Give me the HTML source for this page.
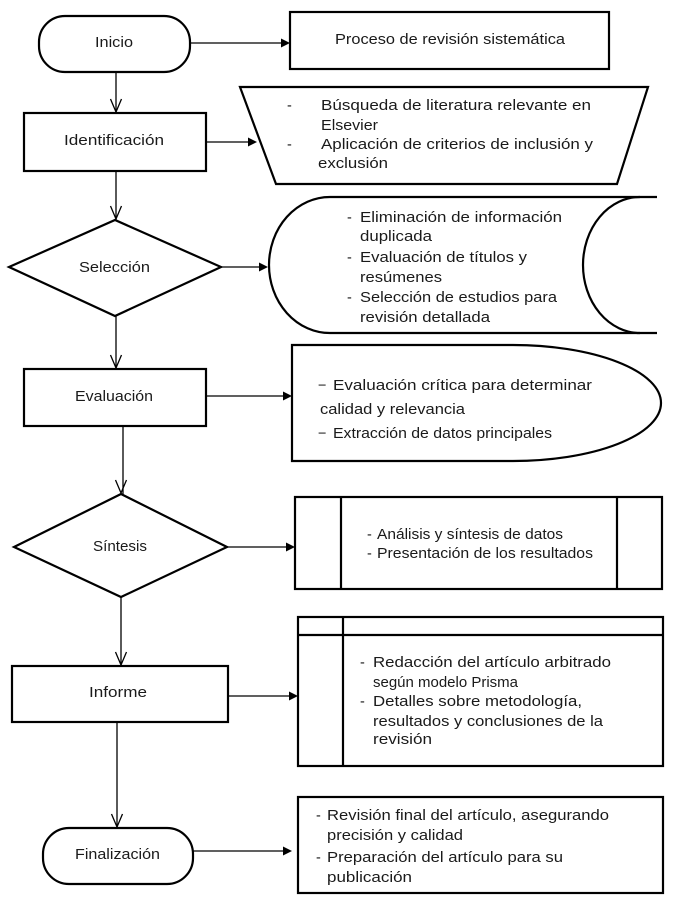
<!DOCTYPE html>
<html>
<head>
<meta charset="utf-8">
<style>
  html, body { margin: 0; padding: 0; background: #fff; }
  svg { display: block; }
  text { font-family: "Liberation Sans", sans-serif; font-size: 14.5px; fill: #1a1a1a; }
</style>
</head>
<body>
<svg width="682" height="903" viewBox="0 0 682 903" xmlns="http://www.w3.org/2000/svg">
  <g fill="none" stroke="#000" stroke-width="2.2">
    <rect x="39" y="16" width="151" height="56" rx="26" ry="26"/>
    <rect x="24" y="113" width="182" height="58"/>
    <polygon points="9,267 115,220 221,267 115,316"/>
    <rect x="24" y="369" width="182" height="57"/>
    <polygon points="14,547 121,494 227,547 121,597"/>
    <rect x="12" y="666" width="216" height="56"/>
    <rect x="43" y="828" width="150" height="56" rx="26" ry="26"/>

    <rect x="290" y="12" width="319" height="57"/>
    <polygon points="240,87 648,87 617,184 276,184"/>
    <path d="M657,197 H330 A61,68 0 0 0 330,333 H657"/>
    <path d="M640,197 A57,68 0 0 0 640,333"/>
    <path d="M292,345 H513 A148,58 0 0 1 513,461 H292 Z"/>
    <rect x="295" y="497" width="367" height="92"/>
    <line x1="341" y1="497" x2="341" y2="589"/>
    <line x1="617" y1="497" x2="617" y2="589"/>
    <rect x="298" y="617" width="365" height="149"/>
    <line x1="343" y1="617" x2="343" y2="766"/>
    <line x1="298" y1="635" x2="663" y2="635"/>
    <rect x="298" y="797" width="365" height="96"/>
  </g>

  <g fill="none" stroke="#000" stroke-width="1.3">
    <line x1="116" y1="72" x2="116" y2="113"/>
    <polyline points="110.5,99 116,112 121.5,99"/>
    <line x1="116" y1="171" x2="116" y2="220"/>
    <polyline points="110.5,206 116,219 121.5,206"/>
    <line x1="116" y1="316" x2="116" y2="369"/>
    <polyline points="110.5,355 116,368 121.5,355"/>
    <line x1="123" y1="426" x2="123" y2="494"/>
    <polyline points="115.5,480 121,493 126.5,480"/>
    <line x1="121" y1="597" x2="121" y2="666"/>
    <polyline points="115.5,652 121,665 126.5,652"/>
    <line x1="117" y1="722" x2="117" y2="828"/>
    <polyline points="111.5,814 117,827 122.5,814"/>
    <line x1="190" y1="43" x2="283" y2="43"/>
    <line x1="206" y1="142" x2="250" y2="142"/>
    <line x1="221" y1="267" x2="261" y2="267"/>
    <line x1="206" y1="396" x2="285" y2="396"/>
    <line x1="227" y1="547" x2="288" y2="547"/>
    <line x1="228" y1="696" x2="291" y2="696"/>
    <line x1="193" y1="851" x2="285" y2="851"/>
  </g>
  <g fill="#000">
    <polygon points="290,43 281,38.5 281,47.5"/>
    <polygon points="257,142 248,137.5 248,146.5"/>
    <polygon points="268,267 259,262.5 259,271.5"/>
    <polygon points="292,396 283,391.5 283,400.5"/>
    <polygon points="295,547 286,542.5 286,551.5"/>
    <polygon points="298,696 289,691.5 289,700.5"/>
    <polygon points="292,851 283,846.5 283,855.5"/>
  </g>

  <text x="95" y="47" textLength="38" lengthAdjust="spacingAndGlyphs">Inicio</text>
  <text x="64" y="145" textLength="100" lengthAdjust="spacingAndGlyphs">Identificación</text>
  <text x="79" y="272" textLength="71" lengthAdjust="spacingAndGlyphs">Selección</text>
  <text x="75" y="401" textLength="78" lengthAdjust="spacingAndGlyphs">Evaluación</text>
  <text x="93" y="551" textLength="54" lengthAdjust="spacingAndGlyphs">Síntesis</text>
  <text x="89" y="697" textLength="58" lengthAdjust="spacingAndGlyphs">Informe</text>
  <text x="75" y="859" textLength="85" lengthAdjust="spacingAndGlyphs">Finalización</text>

  <text x="335" y="44" textLength="230" lengthAdjust="spacingAndGlyphs">Proceso de revisión sistemática</text>

  <text x="287" y="110">-</text>
  <text x="321" y="110" textLength="270" lengthAdjust="spacingAndGlyphs">Búsqueda de literatura relevante en</text>
  <text x="321" y="130" textLength="57" lengthAdjust="spacingAndGlyphs">Elsevier</text>
  <text x="287" y="149">-</text>
  <text x="321" y="149" textLength="272" lengthAdjust="spacingAndGlyphs">Aplicación de criterios de inclusión y</text>
  <text x="318" y="168" textLength="70" lengthAdjust="spacingAndGlyphs">exclusión</text>

  <text x="347" y="222">-</text>
  <text x="360" y="222" textLength="202" lengthAdjust="spacingAndGlyphs">Eliminación  de información</text>
  <text x="360" y="241" textLength="72" lengthAdjust="spacingAndGlyphs">duplicada</text>
  <text x="347" y="262">-</text>
  <text x="360" y="262" textLength="167" lengthAdjust="spacingAndGlyphs">Evaluación  de títulos y</text>
  <text x="360" y="282" textLength="82" lengthAdjust="spacingAndGlyphs">resúmenes</text>
  <text x="347" y="302">-</text>
  <text x="360" y="302" textLength="197" lengthAdjust="spacingAndGlyphs">Selección de estudios para</text>
  <text x="360" y="322" textLength="130" lengthAdjust="spacingAndGlyphs">revisión detallada</text>

  <text x="318" y="390">−</text>
  <text x="333" y="390" textLength="259" lengthAdjust="spacingAndGlyphs">Evaluación  crítica  para  determinar</text>
  <text x="320" y="414" textLength="145" lengthAdjust="spacingAndGlyphs">calidad y relevancia</text>
  <text x="318" y="438">−</text>
  <text x="333" y="438" textLength="219" lengthAdjust="spacingAndGlyphs">Extracción de datos principales</text>

  <text x="367" y="539">-</text>
  <text x="377" y="539" textLength="186" lengthAdjust="spacingAndGlyphs">Análisis y síntesis de datos</text>
  <text x="367" y="558">-</text>
  <text x="377" y="558" textLength="216" lengthAdjust="spacingAndGlyphs">Presentación de los resultados</text>

  <text x="360" y="667">-</text>
  <text x="373" y="667" textLength="238" lengthAdjust="spacingAndGlyphs">Redacción del artículo arbitrado</text>
  <text x="373" y="687" font-size="15" textLength="145" lengthAdjust="spacingAndGlyphs">según modelo Prisma</text>
  <text x="360" y="706">-</text>
  <text x="373" y="706" textLength="209" lengthAdjust="spacingAndGlyphs">Detalles sobre metodología,</text>
  <text x="373" y="726" textLength="230" lengthAdjust="spacingAndGlyphs">resultados y conclusiones de la</text>
  <text x="373" y="744" textLength="59" lengthAdjust="spacingAndGlyphs">revisión</text>

  <text x="316" y="820">-</text>
  <text x="327" y="820" textLength="282" lengthAdjust="spacingAndGlyphs">Revisión final  del artículo, asegurando</text>
  <text x="327" y="840" textLength="136" lengthAdjust="spacingAndGlyphs">precisión y calidad</text>
  <text x="316" y="862">-</text>
  <text x="327" y="862" textLength="236" lengthAdjust="spacingAndGlyphs">Preparación del artículo para su</text>
  <text x="327" y="882" textLength="85" lengthAdjust="spacingAndGlyphs">publicación</text>
</svg>
</body>
</html>
